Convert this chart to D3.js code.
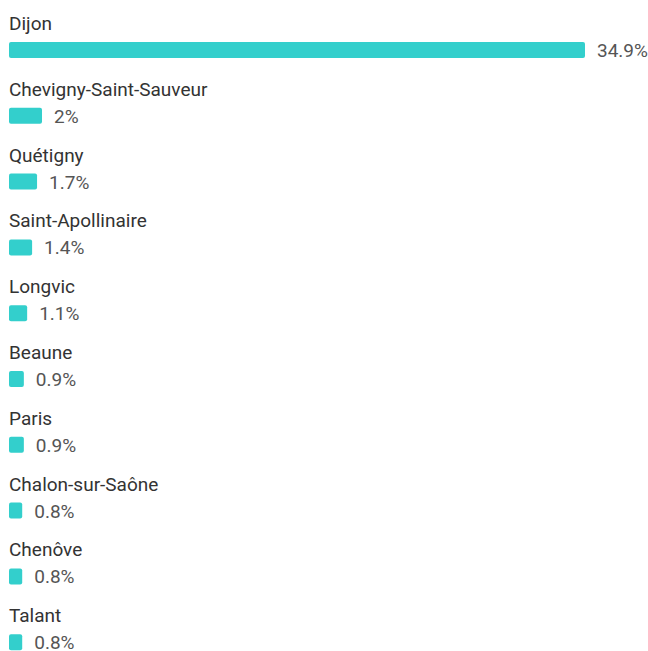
<!DOCTYPE html>
<html>
<head>
<meta charset="utf-8">
<title>villes</title>
<script src="https://cdn.jsdelivr.net/npm/d3@7"></script>
<style>
body { margin:0; background:#fff; font-family:Roboto, "Noto Sans", sans-serif; }
.lbl { fill:#333; font-size:19px; }
.val { fill:#555; font-size:19px; }
</style>
</head>
<body>
<svg id="chart" width="648" height="651"></svg>
<script>
// cities and share of visitors (%)
const cities = ["Dijon", "Chevigny-Saint-Sauveur", "Quétigny", "Saint-Apollinaire", "Longvic",
  "Beaune", "Paris", "Chalon-sur-Saône", "Chenôve", "Talant"];
const shares = [34.9, 2, 1.7, 1.4, 1.1, 0.9, 0.9, 0.8, 0.8, 0.8];

const svg = d3.select("#chart");
const x = d3.scaleLinear().domain([0, 34.9]).range([0, 576]);
const y = d3.scaleBand().domain(cities).range([0, 658]);

const row = svg.selectAll("g.row").data(cities).enter().append("g")
  .attr("class", "row")
  .attr("transform", d => `translate(9,${y(d)})`);

row.append("text").attr("class", "lbl").attr("x", 0).attr("y", 30).text(d => d);

row.append("rect")
  .attr("x", 0).attr("y", 42).attr("height", 16).attr("rx", 2)
  .attr("width", (d, i) => Math.max(12, x(shares[i])))
  .attr("fill", "#33cfcc");

row.append("text").attr("class", "val")
  .attr("x", (d, i) => Math.max(12, x(shares[i])) + 12)
  .attr("y", 57)
  .text((d, i) => shares[i] + "%");
</script>
</body>
</html>
